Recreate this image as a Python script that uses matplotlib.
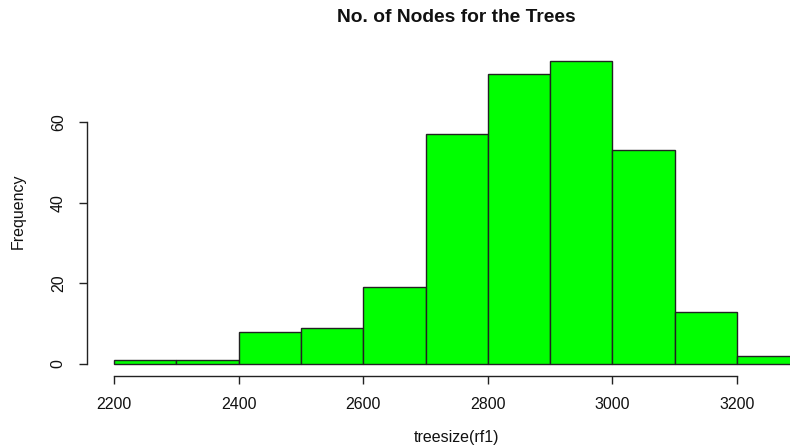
import matplotlib

matplotlib.use("Agg")
import matplotlib.pyplot as plt

# histogram of tree sizes, binned by 100 nodes
bin_edges = [2200, 2300, 2400, 2500, 2600, 2700, 2800, 2900, 3000, 3100, 3200, 3300]
counts = [1, 1, 8, 9, 19, 57, 72, 75, 53, 13, 2]
x_ticks = [2200, 2400, 2600, 2800, 3000, 3200]
y_ticks = [0, 20, 40, 60]

plt.rcParams["font.family"] = ["Liberation Sans", "DejaVu Sans"]

W, H = 790, 448
fig = plt.figure(figsize=(W / 100, H / 100), dpi=100)

# R-style plot region: xlim/ylim padded by 4%
x0, x1 = 2156, 3344
y0, y1 = -3, 78
left_px, right_px = 86.6, 826.7
bottom_px, top_px = 376.1, 49.4
ax = fig.add_axes([
    left_px / W,
    1 - bottom_px / H,
    (right_px - left_px) / W,
    (bottom_px - top_px) / H,
])
ax.set_xlim(x0, x1)
ax.set_ylim(y0, y1)

widths = [b - a for a, b in zip(bin_edges[:-1], bin_edges[1:])]
ax.bar(bin_edges[:-1], counts, width=widths, align="edge",
       color="#00ff00", edgecolor="#222222", linewidth=1.0, clip_on=False)

for side in ("top", "right"):
    ax.spines[side].set_visible(False)
ax.spines["left"].set_bounds(0, 60)
ax.spines["bottom"].set_bounds(2200, 3200)
for side in ("left", "bottom"):
    ax.spines[side].set_linewidth(1.0)
    ax.spines[side].set_color("#222222")

ax.set_xticks(x_ticks)
ax.set_yticks(y_ticks)
ax.tick_params(direction="out", length=6, width=1.0, color="#222222",
               labelsize=11.5, labelcolor="#111111")
ax.tick_params(axis="x", pad=9)
ax.tick_params(axis="y", pad=9)
for lbl in ax.get_yticklabels():
    lbl.set_rotation(90)
    lbl.set_va("center")

fig.text(456 / W, 1 - 17 / H, "No. of Nodes for the Trees", ha="center", va="center",
         fontsize=13.8, fontweight="bold", color="#111111")
fig.text(456 / W, 1 - 437 / H, "treesize(rf1)", ha="center", va="center",
         fontsize=11.5, color="#111111")
fig.text(18 / W, 1 - 211 / H, "Frequency", ha="center", va="center",
         rotation=90, fontsize=11.5, color="#111111")

fig.savefig("out.png", dpi=100)
